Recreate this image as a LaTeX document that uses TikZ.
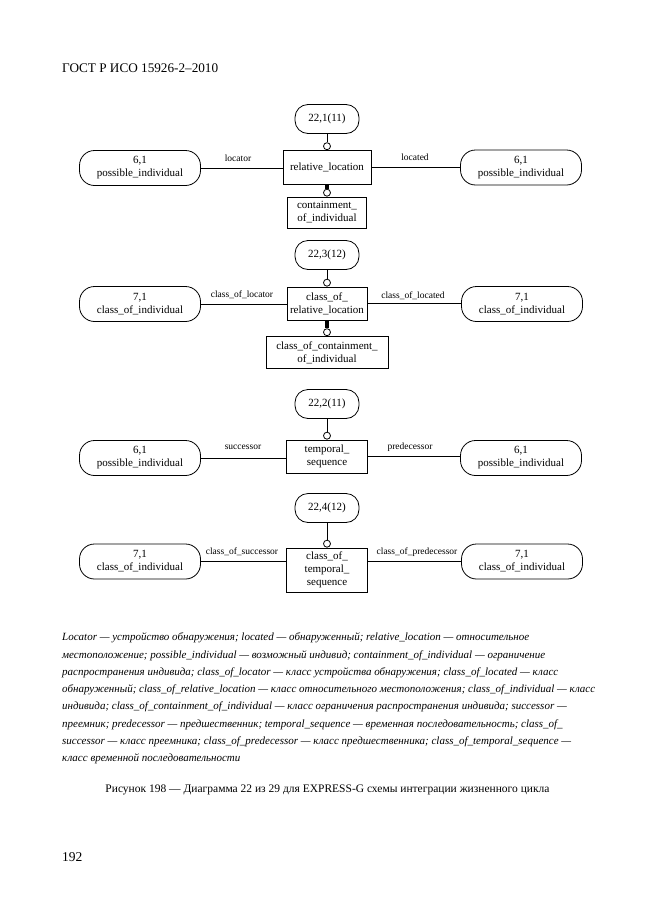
\documentclass[tikz,border=0pt]{standalone}
\usepackage{fontspec}
\setmainfont{Liberation Serif}
\newcommand{\fsz}[1]{\fontsize{#1}{#1}\selectfont}
\begin{document}
\begin{tikzpicture}[x=1pt,y=-1pt,
  ent/.style={draw, line width=0.8pt, inner sep=0pt, align=center, font=\fontsize{11}{13}\selectfont},
  stad/.style={ent, rounded corners=15pt, minimum width=121pt, minimum height=35pt},
  topbox/.style={ent, rounded corners=13pt, minimum width=64pt, minimum height=29pt},
  lab/.style={font=\fsz{9.5}, inner sep=0pt},
  circ/.style={draw, circle, line width=0.8pt, minimum size=7pt, inner sep=0pt, fill=white},
  conn/.style={line width=0.8pt},
  thick conn/.style={line width=4pt},
  legend/.style={font=\itshape\fsz{11}, anchor=west, inner sep=0pt}
]
\useasboundingbox (0,0) rectangle (661,913);

\node[anchor=west, inner sep=0pt, font=\fsz{13.2}] (hdr) at (62,68) {ГОСТ Р ИСО 15926-2--2010};

% group 1
\node[topbox] (t1) at (327,119) {22,1(11)};
\node[ent, minimum width=88pt, minimum height=34pt] (rel) at (327,167.5) {relative\_location};
\node[ent, minimum width=79pt, minimum height=31pt] (cont) at (327,212.5) {containment\_\\of\_individual};
\node[stad] (L1) at (140,168) {6,1\\possible\_individual};
\node[stad] (R1) at (521,167.5) {6,1\\possible\_individual};
\node[circ, anchor=south] (c1) at (rel.north) {};
\node[circ, anchor=south] (c1b) at (cont.north) {};
\draw[conn] (t1.south) -- (c1.north);
\draw[thick conn] (rel.south) -- (c1b.north);
\draw[conn] (L1.east) -- (L1.east -| rel.west);
\draw[conn] (rel.east) -- (rel.east -| R1.west);
\node[lab] (l1a) at (238,158) {locator};
\node[lab] (l1b) at (415,157) {located};

% group 2
\node[topbox] (t2) at (327,255) {22,3(12)};
\node[ent, minimum width=80pt, minimum height=33pt] (corl) at (327,303.5) {class\_of\_\\relative\_location};
\node[ent, minimum width=122pt, minimum height=32pt] (coc) at (327,352.5) {class\_of\_containment\_\\of\_individual};
\node[stad] (L2) at (140,304) {7,1\\class\_of\_individual};
\node[stad] (R2) at (522,304) {7,1\\class\_of\_individual};
\node[circ, anchor=south] (c2) at (corl.north) {};
\node[circ, anchor=south] (c2b) at (coc.north) {};
\draw[conn] (t2.south) -- (c2.north);
\draw[thick conn] (corl.south) -- (c2b.north);
\draw[conn] (L2.east) -- (L2.east -| corl.west);
\draw[conn] (corl.east) -- (corl.east -| R2.west);
\node[lab] (l2a) at (242,295) {class\_of\_locator};
\node[lab] (l2b) at (413,296) {class\_of\_located};

% group 3
\node[topbox] (t3) at (327,404) {22,2(11)};
\node[ent, minimum width=81pt, minimum height=33pt] (ts) at (327,456.5) {temporal\_\\sequence};
\node[stad] (L3) at (140,458) {6,1\\possible\_individual};
\node[stad] (R3) at (521,458) {6,1\\possible\_individual};
\node[circ, anchor=south] (c3) at (ts.north) {};
\draw[conn] (t3.south) -- (c3.north);
\draw[conn] (L3.east) -- (L3.east -| ts.west);
\draw[conn] (ts.east) -- (ts.east -| R3.west);
\node[lab] (l3a) at (243,447) {successor};
\node[lab] (l3b) at (410,447) {predecessor};

% group 4
\node[topbox] (t4) at (327,508) {22,4(12)};
\node[ent, minimum width=81pt, minimum height=44pt] (cots) at (327,570) {class\_of\_\\temporal\_\\sequence};
\node[stad] (L4) at (140,561.5) {7,1\\class\_of\_individual};
\node[stad] (R4) at (522,561.5) {7,1\\class\_of\_individual};
\node[circ, anchor=south] (c4) at (cots.north) {};
\draw[conn] (t4.south) -- (c4.north);
\draw[conn] (L4.east) -- (L4.east -| cots.west);
\draw[conn] (L4.east -| cots.east) -- (R4.west);
\node[lab] (l4a) at (242,552) {class\_of\_successor};
\node[lab] (l4b) at (417,552) {class\_of\_predecessor};

% legend
\node[legend] (g1) at (62,638) {Locator — устройство обнаружения; located — обнаруженный; relative\_location — относительное};
\node[legend] (g2) at (62,655.3) {местоположение; possible\_individual — возможный индивид; containment\_of\_individual — ограничение};
\node[legend] (g3) at (62,672.5) {распространения индивида; class\_of\_locator — класс устройства обнаружения; class\_of\_located — класс};
\node[legend] (g4) at (62,689.8) {обнаруженный; class\_of\_relative\_location — класс относительного местоположения; class\_of\_individual — класс};
\node[legend] (g5) at (62,707) {индивида; class\_of\_containment\_of\_individual — класс ограничения распространения индивида; successor —};
\node[legend] (g6) at (62,724.3) {преемник; predecessor — предшественник; temporal\_sequence — временная последовательность; class\_of\_};
\node[legend] (g7) at (62,741.5) {successor — класс преемника; class\_of\_predecessor — класс предшественника; class\_of\_temporal\_sequence —};
\node[legend] (g8) at (62,758.8) {класс временной последовательности};

\node[inner sep=0pt, font=\fsz{11.5}] (cap) at (327.5,790) {Рисунок 198 — Диаграмма 22 из 29 для EXPRESS-G схемы интеграции жизненного цикла};
\node[anchor=west, inner sep=0pt, font=\fsz{13.5}] (pg) at (62,857) {192};
\end{tikzpicture}
\end{document}
